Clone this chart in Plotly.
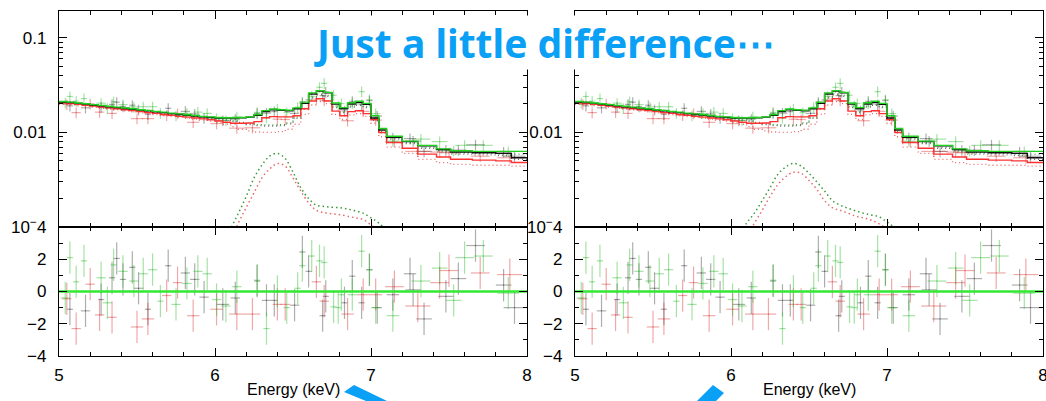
import plotly.graph_objects as go

W, H = 1046, 401

# ---------------- model (binned, step) ----------------
edges = [5.00, 5.05, 5.10, 5.15, 5.20, 5.25, 5.30, 5.35, 5.40, 5.45,
         5.50, 5.55, 5.60, 5.65, 5.70, 5.75, 5.80, 5.85, 5.90, 5.95,
         6.00, 6.05, 6.10, 6.15, 6.20, 6.25, 6.30, 6.35, 6.40, 6.45,
         6.50, 6.55, 6.60, 6.65, 6.70, 6.75, 6.80, 6.85, 6.90, 6.95,
         7.00, 7.05, 7.10, 7.20, 7.30, 7.42, 7.51, 7.65, 7.80, 7.90, 8.00]

model_green = [0.0212, 0.0209, 0.0205, 0.0201, 0.0197, 0.0193, 0.0189, 0.0185, 0.0181, 0.0178,
               0.0174, 0.0171, 0.0167, 0.0164, 0.0160, 0.0157, 0.0154, 0.0151, 0.0148, 0.0146,
               0.0144, 0.0143, 0.0143, 0.0144, 0.0146, 0.0155, 0.0170, 0.0177, 0.0174, 0.0172,
               0.0182, 0.0209, 0.0262, 0.0277, 0.0265, 0.0205, 0.0183, 0.0206, 0.0214, 0.0203,
               0.0150, 0.0110, 0.0091, 0.0081, 0.0073, 0.0067, 0.0064, 0.0063, 0.0063, 0.0063]
model_black = [0.0210, 0.0207, 0.0203, 0.0199, 0.0195, 0.0191, 0.0187, 0.0183, 0.0179, 0.0176,
               0.0172, 0.0169, 0.0165, 0.0162, 0.0158, 0.0155, 0.0152, 0.0149, 0.0146, 0.0144,
               0.0142, 0.0142, 0.0142, 0.0143, 0.0145, 0.0152, 0.0166, 0.0173, 0.0171, 0.0169,
               0.0178, 0.0203, 0.0255, 0.0274, 0.0262, 0.0199, 0.0178, 0.0200, 0.0207, 0.0198,
               0.0142, 0.0106, 0.0089, 0.0080, 0.0072, 0.0066, 0.0062, 0.0061, 0.0060, 0.0054]
model_red = [0.0205, 0.0202, 0.0198, 0.0194, 0.0190, 0.0186, 0.0182, 0.0178, 0.0174, 0.0170,
             0.0166, 0.0162, 0.0159, 0.0155, 0.0152, 0.0148, 0.0145, 0.0142, 0.0139, 0.0136,
             0.0132, 0.0128, 0.0125, 0.0125, 0.0126, 0.0130, 0.0143, 0.0147, 0.0146, 0.0146,
             0.0150, 0.0178, 0.0215, 0.0228, 0.0215, 0.0168, 0.0150, 0.0166, 0.0170, 0.0158,
             0.0137, 0.0100, 0.0078, 0.0068, 0.0059, 0.0055, 0.0052, 0.0051, 0.0050, 0.0048]

cont_green = [0.0208, 0.0205, 0.0201, 0.0197, 0.0193, 0.0189, 0.0185, 0.0181, 0.0177, 0.0174,
              0.0171, 0.0168, 0.0164, 0.0161, 0.0157, 0.0154, 0.0151, 0.0148, 0.0145, 0.0143,
              0.0140, 0.0138, 0.0133, 0.0128, 0.0124, 0.0121, 0.0120, 0.0120, 0.0121, 0.0126,
              0.0145, 0.0180, 0.0238, 0.0256, 0.0246, 0.0188, 0.0166, 0.0190, 0.0198, 0.0188,
              0.0140, 0.0102, 0.0087, 0.0078, 0.0070, 0.0064, 0.0061, 0.0060, 0.0059, 0.0059]
cont_black = [0.0204, 0.0201, 0.0197, 0.0193, 0.0189, 0.0185, 0.0181, 0.0177, 0.0173, 0.0170,
              0.0167, 0.0164, 0.0160, 0.0157, 0.0153, 0.0150, 0.0147, 0.0144, 0.0141, 0.0139,
              0.0136, 0.0134, 0.0130, 0.0125, 0.0121, 0.0118, 0.0117, 0.0117, 0.0118, 0.0123,
              0.0141, 0.0175, 0.0232, 0.0250, 0.0240, 0.0183, 0.0162, 0.0185, 0.0193, 0.0183,
              0.0134, 0.0099, 0.0085, 0.0076, 0.0068, 0.0062, 0.0059, 0.0058, 0.0057, 0.0052]
cont_red = [0.0199, 0.0196, 0.0192, 0.0188, 0.0184, 0.0180, 0.0177, 0.0173, 0.0169, 0.0165,
            0.0161, 0.0157, 0.0154, 0.0150, 0.0147, 0.0144, 0.0141, 0.0138, 0.0135, 0.0132,
            0.0127, 0.0122, 0.0115, 0.0108, 0.0104, 0.0101, 0.0100, 0.0100, 0.0102, 0.0108,
            0.0122, 0.0155, 0.0195, 0.0212, 0.0202, 0.0155, 0.0137, 0.0153, 0.0158, 0.0148,
            0.0125, 0.0090, 0.0070, 0.0060, 0.0052, 0.0048, 0.0046, 0.0045, 0.0045, 0.0044]

# ---------------- Fe K gaussian component ----------------
gauss_e = [6.05, 6.10, 6.15, 6.20, 6.25, 6.30, 6.35, 6.40, 6.45, 6.50, 6.55,
           6.60, 6.65, 6.70, 6.75, 6.80, 6.85, 6.90, 6.95, 7.00, 7.05, 7.10]
gauss_left_green = [0.0006, 0.00095, 0.0014, 0.0021, 0.0033, 0.0045, 0.0056, 0.0060, 0.0053, 0.0038, 0.0026,
                    0.0020, 0.0017, 0.00165, 0.00162, 0.0016, 0.00155, 0.00148, 0.0014, 0.00125, 0.0011, 0.0009]
gauss_left_red = [0.0004, 0.0007, 0.0011, 0.0016, 0.0023, 0.0033, 0.0041, 0.0047, 0.0044, 0.0033, 0.0024,
                  0.0018, 0.0015, 0.00142, 0.00138, 0.00135, 0.0013, 0.00125, 0.0012, 0.00105, 0.0009, 0.0007]
gauss_right_green = [0.0008, 0.0011, 0.0014, 0.0019, 0.0026, 0.0036, 0.0043, 0.0047, 0.0044, 0.0037, 0.0030,
                     0.0024, 0.0019, 0.0017, 0.00158, 0.00148, 0.0014, 0.00134, 0.00128, 0.00113, 0.00098, 0.0008]
gauss_right_red = [0.0006, 0.0008, 0.0011, 0.0015, 0.0021, 0.0028, 0.0034, 0.0038, 0.0037, 0.0031, 0.0025,
                   0.0019, 0.0016, 0.0015, 0.0014, 0.0013, 0.00125, 0.00118, 0.00108, 0.00095, 0.0008, 0.0007]

# ---------------- data points ----------------
green_e = [5.04, 5.07, 5.11, 5.16, 5.27, 5.31, 5.35, 5.41, 5.48, 5.54, 5.60, 5.65, 5.75, 5.82,
           5.89, 5.95, 6.01, 6.07, 6.14, 6.27, 6.33, 6.40, 6.46, 6.53, 6.56, 6.62, 6.67, 6.70,
           6.76, 6.79, 6.81, 6.88, 6.94, 6.99, 7.03, 7.14, 7.32, 7.44, 7.53, 7.60, 7.72, 7.88]
green_hw = [0.03, 0.02, 0.02, 0.02, 0.03, 0.03, 0.02, 0.03, 0.03, 0.03, 0.03, 0.02, 0.03, 0.03,
            0.03, 0.03, 0.03, 0.03, 0.03, 0.02, 0.02, 0.02, 0.02, 0.02, 0.02, 0.02, 0.02, 0.02,
            0.02, 0.02, 0.02, 0.03, 0.02, 0.02, 0.03, 0.04, 0.06, 0.05, 0.05, 0.06, 0.06, 0.07]
green_flux = [0.0206, 0.0240, 0.0214, 0.0228, 0.0204, 0.0180, 0.0211, 0.0197, 0.0186, 0.0187, 0.0187, 0.0160, 0.0151, 0.0159,
              0.0164, 0.0159, 0.0141, 0.0134, 0.0146, 0.0163, 0.0143, 0.0177, 0.0162, 0.0185, 0.0202, 0.0241, 0.0300, 0.0330,
              0.0247, 0.0191, 0.0202, 0.0203, 0.0270, 0.0222, 0.0158, 0.0081, 0.0085, 0.0080, 0.0064, 0.0073, 0.0073, 0.0063]
green_res = [-0.4, 2.1, 0.6, 1.9, 0.85, -0.7, 1.65, 1.25, 0.65, 1.1, 1.35, -0.6, -0.8, 0.5,
             1.25, 1.1, -0.5, -0.9, 0.3, 0.7, -2.3, 0.0, -1.0, 0.2, 1.6, 2.2, 1.9, 1.8,
             -0.95, -1.0, -0.2, -0.2, 2.5, 1.35, -1.0, -1.5, 0.65, 1.45, -0.55, 2.1, 2.2, -0.1]

black_e = [5.07, 5.17, 5.27, 5.34, 5.37, 5.41, 5.47, 5.51, 5.57, 5.70, 5.81, 5.87, 5.93, 6.05,
           6.13, 6.27, 6.33, 6.38, 6.51, 6.56, 6.60, 6.69, 6.71, 6.83, 6.88, 6.94, 6.99, 7.04,
           7.14, 7.25, 7.27, 7.34, 7.48, 7.56, 7.67, 7.85, 7.92]
black_hw = [0.02, 0.03, 0.02, 0.02, 0.02, 0.02, 0.02, 0.03, 0.02, 0.02, 0.03, 0.03, 0.03, 0.04,
            0.03, 0.02, 0.03, 0.02, 0.03, 0.02, 0.02, 0.02, 0.02, 0.02, 0.02, 0.02, 0.02, 0.03,
            0.04, 0.04, 0.05, 0.05, 0.05, 0.05, 0.06, 0.05, 0.07]
black_flux = [0.0191, 0.0182, 0.0184, 0.0198, 0.0209, 0.0188, 0.0194, 0.0174, 0.0156, 0.0180, 0.0167, 0.0157, 0.0142, 0.0134,
              0.0138, 0.0159, 0.0160, 0.0166, 0.0159, 0.0209, 0.0221, 0.0245, 0.0268, 0.0169, 0.0213, 0.0197, 0.0217, 0.0149,
              0.0088, 0.0086, 0.0081, 0.0063, 0.0065, 0.0065, 0.0074, 0.0062, 0.0056]
black_res = [-1.1, -1.2, -0.5, 0.85, 2.05, 0.75, 1.5, 0.2, -1.1, 1.6, 1.15, 0.75, -0.35, -0.8,
             -0.4, 0.65, -0.55, -0.55, -0.85, 2.45, 1.25, -1.5, -0.3, -0.7, 0.95, -0.7, 1.35, -1.0,
             -0.2, 1.1, 0.1, -1.7, -0.3, 0.8, 2.85, 0.4, -1.0]

red_e = [5.05, 5.11, 5.20, 5.26, 5.34, 5.50, 5.57, 5.69, 5.76, 5.86, 6.01, 6.14, 6.24,
         6.40, 6.45, 6.65, 6.70, 6.85, 6.95, 7.03, 7.15, 7.30, 7.44, 7.50, 7.70, 7.89]
red_hw = [0.03, 0.03, 0.03, 0.03, 0.03, 0.04, 0.04, 0.03, 0.03, 0.04, 0.04, 0.05, 0.05,
          0.03, 0.03, 0.03, 0.03, 0.04, 0.04, 0.04, 0.06, 0.08, 0.06, 0.06, 0.06, 0.08]
red_flux = [0.0198, 0.0162, 0.0201, 0.0164, 0.0159, 0.0140, 0.0140, 0.0152, 0.0159, 0.0128, 0.0124, 0.0111, 0.0112,
            0.0138, 0.0137, 0.0225, 0.0217, 0.0133, 0.0167, 0.0135, 0.0080, 0.0063, 0.0062, 0.0061, 0.0056, 0.0054]
red_res = [-0.45, -2.3, 0.45, -1.45, -1.6, -2.2, -1.7, -0.25, 0.55, -1.5, -1.1, -1.4, -1.4,
           -0.8, -0.8, 0.6, -0.6, -1.4, -0.2, -0.2, 0.3, -0.9, 0.55, 1.3, 1.15, 1.05]

upper_ticks = [0.01, 0.1]
upper_ticktext = ["0.01", "0.1"]
upper_minor = [0.002, 0.003, 0.004, 0.005, 0.006, 0.007, 0.008, 0.009,
               0.02, 0.03, 0.04, 0.05, 0.06, 0.07, 0.08, 0.09]
res_ticks = [-4, -2, 0, 2, 4]
res_ticktext = ["\u22124", "\u22122", "0", "2", "10<sup>\u2212</sup>4"]

# ---------------- styling ----------------
C_K, C_R, C_G = "#111111", "#ff3030", "#1fd01f"
D_K, D_R, D_G = "rgba(0,0,0,0.32)", "rgba(215,40,40,0.40)", "rgba(40,185,40,0.42)"
DOT_K, DOT_R, DOT_G = "#666666", "#e86a6a", "#3a9a3a"
FONT = "Liberation Sans, Arial, sans-serif"
BLUE = "#0aa0f5"


def sx(p):
    return p / W


def sy(p):
    return 1 - p / H


fig = go.Figure()


def step_y(v):
    return list(v) + [v[-1]]


panels = [
    ("x", "y", "x2", "y2", gauss_left_green, gauss_left_red),
    ("x3", "y3", "x4", "y4", gauss_right_green, gauss_right_red),
]

for xu, yu, xl, yl, g_green, g_red in panels:
    # data crosses (upper)
    for e, hw, fl, col in [(black_e, black_hw, black_flux, D_K),
                           (red_e, red_hw, red_flux, D_R),
                           (green_e, green_hw, green_flux, D_G)]:
        fig.add_trace(go.Scatter(
            x=e, y=fl, mode="markers", xaxis=xu, yaxis=yu,
            marker=dict(size=1, color=col),
            error_x=dict(type="data", array=hw, color=col, thickness=1.2, width=0),
            error_y=dict(type="percent", value=13, color=col, thickness=1.2, width=0),
            showlegend=False, hoverinfo="skip"))
    # dotted continuum
    for v, col in [(cont_black, DOT_K), (cont_red, DOT_R), (cont_green, DOT_G)]:
        fig.add_trace(go.Scatter(
            x=edges, y=step_y(v), mode="lines", line_shape="hv", xaxis=xu, yaxis=yu,
            line=dict(color=col, width=1.3, dash="1px,3px"), showlegend=False, hoverinfo="skip"))
    # gaussian components
    for v, col in [(g_red, DOT_R), (g_green, DOT_G)]:
        fig.add_trace(go.Scatter(
            x=gauss_e, y=v, mode="lines", xaxis=xu, yaxis=yu, line_shape="spline",
            line=dict(color=col, width=1.5, dash="1.5px,3px"), showlegend=False, hoverinfo="skip"))
    # total models
    for v, col in [(model_red, C_R), (model_black, C_K), (model_green, C_G)]:
        fig.add_trace(go.Scatter(
            x=edges, y=step_y(v), mode="lines", line_shape="hv", xaxis=xu, yaxis=yu,
            line=dict(color=col, width=1.4), showlegend=False, hoverinfo="skip"))
    # residuals
    for e, hw, r, col in [(black_e, black_hw, black_res, D_K),
                          (red_e, red_hw, red_res, D_R),
                          (green_e, green_hw, green_res, D_G)]:
        fig.add_trace(go.Scatter(
            x=e, y=r, mode="markers", xaxis=xl, yaxis=yl,
            marker=dict(size=1, color=col),
            error_x=dict(type="data", array=hw, color=col, thickness=1.2, width=0),
            error_y=dict(type="constant", value=1, color=col, thickness=1.2, width=0),
            showlegend=False, hoverinfo="skip"))
    fig.add_trace(go.Scatter(
        x=[5, 8], y=[0, 0], mode="lines", xaxis=xl, yaxis=yl,
        line=dict(color="#33e833", width=2.5), showlegend=False, hoverinfo="skip"))

xdom_l = [sx(59), sx(527)]
xdom_r = [sx(575), sx(1043)]
ydom_u = [sy(227), sy(11)]
ydom_l = [sy(356), sy(227)]

tickfont = dict(family=FONT, size=17, color="black")

xbase = dict(range=[5, 8], showline=True, linecolor="black", linewidth=1.3, mirror="ticks",
             ticks="inside", ticklen=8, tickwidth=1.3, tickcolor="black", tick0=5, dtick=1,
             minor=dict(ticks="inside", dtick=0.2, ticklen=4, tickwidth=1, tickcolor="black"),
             showgrid=False, zeroline=False, tickfont=tickfont, automargin=False,
             ticklabeloverflow="allow")
yup = dict(type="log", range=[-3, -0.716], showline=True, linecolor="black", linewidth=1.3,
           mirror="ticks", ticks="inside", ticklen=8, tickwidth=1.3, tickcolor="black",
           tickvals=upper_ticks, ticktext=upper_ticktext,
           minor=dict(ticks="inside", tickvals=upper_minor, ticklen=4, tickwidth=1, tickcolor="black"),
           showgrid=False, zeroline=False, tickfont=tickfont, ticklabelstandoff=8, automargin=False,
           ticklabeloverflow="allow")
ylo = dict(range=[-4, 4], showline=True, linecolor="black", linewidth=1.3,
           mirror="ticks", ticks="inside", ticklen=8, tickwidth=1.3, tickcolor="black",
           tickvals=res_ticks, ticktext=res_ticktext,
           minor=dict(ticks="inside", dtick=1, ticklen=4, tickwidth=1, tickcolor="black"),
           showgrid=False, zeroline=False, tickfont=tickfont, ticklabelstandoff=8, automargin=False,
           ticklabeloverflow="allow")

fig.update_layout(
    width=W, height=H, margin=dict(l=0, r=0, t=0, b=0, pad=0),
    paper_bgcolor="white", plot_bgcolor="white",
    xaxis=dict(xbase, domain=xdom_l, anchor="y", showticklabels=False),
    yaxis=dict(yup, domain=ydom_u, anchor="x"),
    xaxis2=dict(xbase, domain=xdom_l, anchor="y2", ticklabelstandoff=3),
    yaxis2=dict(ylo, domain=ydom_l, anchor="x2"),
    xaxis3=dict(xbase, domain=xdom_r, anchor="y3", showticklabels=False),
    yaxis3=dict(yup, domain=ydom_u, anchor="x3"),
    xaxis4=dict(xbase, domain=xdom_r, anchor="y4", ticklabelstandoff=3),
    yaxis4=dict(ylo, domain=ydom_l, anchor="x4"),
)

annotations = [
    dict(text="Energy (keV)", x=sx(293), y=sy(389), xref="paper", yref="paper",
         xanchor="center", yanchor="middle",
         showarrow=False, font=dict(family=FONT, size=16, color="black")),
    dict(text="Energy (keV)", x=sx(809), y=sy(389), xref="paper", yref="paper",
         xanchor="center", yanchor="middle",
         showarrow=False, font=dict(family=FONT, size=16, color="black")),
    dict(text="Just a little difference\u22ef", x=sx(544), y=sy(42), xref="paper", yref="paper",
         xanchor="center", yanchor="middle", bgcolor="white", borderpad=0,
         showarrow=False, font=dict(family="Noto Sans, sans-serif", size=39, color=BLUE, weight="bold")),
]
fig.update_layout(annotations=annotations)


def poly(pts):
    return "M " + " L ".join(f"{sx(a):.5f} {sy(b):.5f}" for a, b in pts) + " Z"


shapes = [
    dict(type="path", xref="paper", yref="paper",
         path=poly([(344, 392), (354, 385), (387, 401), (366, 401)]),
         fillcolor=BLUE, line=dict(width=0)),
    dict(type="path", xref="paper", yref="paper",
         path=poly([(697, 401), (713, 385), (724, 393), (716, 401)]),
         fillcolor=BLUE, line=dict(width=0)),
]
fig.update_layout(shapes=shapes)

fig.write_html("out.html")
